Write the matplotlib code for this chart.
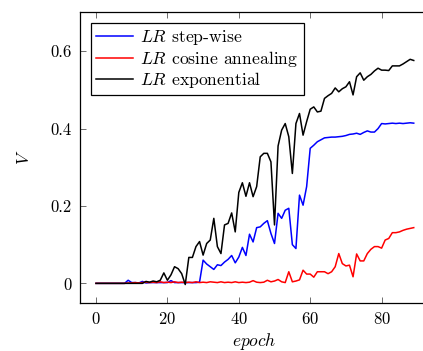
import numpy as np
import matplotlib
matplotlib.use('Agg')
import matplotlib.pyplot as plt

plt.rcParams['font.family'] = 'cmr10'
plt.rcParams['mathtext.fontset'] = 'cm'
plt.rcParams['axes.formatter.use_mathtext'] = True
plt.rcParams['font.size'] = 12

epochs = np.arange(90)

step_wise = [0, 0, 0, 0, 0, 0, 0, 0, 0, 0.008,
             0.002, 0.002, 0.001, 0.005, 0.001, 0.002, 0.002, 0.002, 0.002, 0.002,
             0.002, 0.007, 0.002, 0.002, 0.002, 0.002, 0.002, 0.002, 0.002, 0.003,
             0.060, 0.050, 0.043, 0.036, 0.048, 0.046, 0.055, 0.062, 0.072, 0.053,
             0.068, 0.093, 0.072, 0.127, 0.107, 0.144, 0.146, 0.155, 0.162, 0.129,
             0.103, 0.181, 0.168, 0.189, 0.194, 0.100, 0.090, 0.228, 0.202, 0.250,
             0.349, 0.357, 0.366, 0.371, 0.376, 0.377, 0.378, 0.378, 0.379, 0.380,
             0.382, 0.385, 0.386, 0.388, 0.385, 0.390, 0.394, 0.391, 0.391, 0.400,
             0.413, 0.412, 0.413, 0.414, 0.413, 0.414, 0.413, 0.414, 0.415, 0.414]

cosine = [0, 0, 0, 0, 0, 0, 0, 0, 0, 0.001,
          0.001, 0.002, 0.001, 0.002, 0.003, 0.002, 0.003, 0.002, 0.004, 0.002,
          0.003, 0.002, 0.004, 0.002, 0.003, 0.002, 0.003, 0.002, 0.004, 0.002,
          0.003, 0.002, 0.004, 0.003, 0.002, 0.004, 0.002, 0.003, 0.002, 0.004,
          0.002, 0.003, 0.002, 0.003, 0.007, 0.003, 0.002, 0.003, 0.008, 0.004,
          0.006, 0.010, 0.004, 0.002, 0.030, 0.004, 0.006, 0.009, 0.034, 0.024,
          0.024, 0.016, 0.030, 0.030, 0.030, 0.025, 0.030, 0.043, 0.077, 0.051,
          0.045, 0.047, 0.017, 0.076, 0.058, 0.058, 0.077, 0.088, 0.095, 0.095,
          0.091, 0.112, 0.116, 0.131, 0.131, 0.133, 0.137, 0.140, 0.142, 0.144]

exponential = [0, 0, 0, 0, 0, 0, 0, 0, 0, 0,
               0, 0, 0, 0, 0.005, 0.003, 0.006, 0.004, 0.008, 0.027,
               0.008, 0.022, 0.043, 0.038, 0.025, -0.003, 0.067, 0.067, 0.095, 0.108,
               0.073, 0.103, 0.112, 0.168, 0.095, 0.077, 0.151, 0.155, 0.182, 0.133,
               0.235, 0.260, 0.225, 0.260, 0.224, 0.250, 0.327, 0.336, 0.336, 0.314,
               0.151, 0.355, 0.396, 0.413, 0.379, 0.284, 0.413, 0.439, 0.383, 0.418,
               0.450, 0.456, 0.443, 0.445, 0.478, 0.485, 0.491, 0.505, 0.495, 0.503,
               0.508, 0.521, 0.487, 0.534, 0.544, 0.525, 0.534, 0.540, 0.549, 0.556,
               0.551, 0.551, 0.550, 0.562, 0.562, 0.562, 0.567, 0.573, 0.579, 0.576]

fig = plt.figure(figsize=(4.23, 3.51), dpi=100)
ax = fig.add_axes([0.1894, 0.1376, 0.825, 0.8268])

ax.plot(epochs, step_wise, color='blue', lw=1.1, label=r'$LR$ step-wise')
ax.plot(epochs, cosine, color='red', lw=1.1, label=r'$LR$ cosine annealing')
ax.plot(epochs, exponential, color='black', lw=1.1, label=r'$LR$ exponential')

ax.set_xlim(-4.45, 93.3)
ax.set_ylim(-0.05, 0.70)
ax.set_xticks([0, 20, 40, 60, 80])
ax.set_yticks([0, 0.2, 0.4, 0.6])
ax.set_yticklabels(['0', '0.2', '0.4', '0.6'])
ax.tick_params(direction='in', length=4, width=0.6, top=True, right=False,
               color='#555555', labelsize=12)
ax.tick_params(axis='x', pad=6)
ax.tick_params(axis='y', pad=6)
for s in ax.spines.values():
    s.set_linewidth(0.9)
# the right edge of the frame lies outside the cropped picture
ax.spines['right'].set_visible(False)

ax.set_xlabel(r'$epoch$', fontsize=12.5, labelpad=3)
ax.set_ylabel(r'$V$', fontsize=12.5, labelpad=13)

leg = ax.legend(loc='upper left', fontsize=12.7, frameon=True, fancybox=False,
                edgecolor='black', framealpha=1, borderaxespad=0.6,
                handlelength=2.1, handletextpad=0.4, borderpad=0.3,
                labelspacing=0.08)
leg.get_frame().set_linewidth(0.9)

fig.savefig('out.png', dpi=100)
